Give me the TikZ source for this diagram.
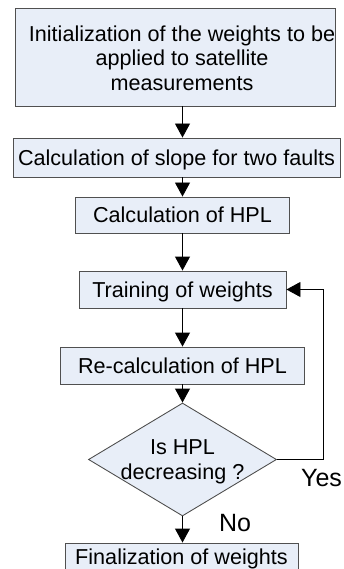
\documentclass[tikz,border=0pt]{standalone}
\usepackage{fontspec}
\setmainfont{Liberation Sans}
\usetikzlibrary{arrows.meta,shapes.geometric}
\definecolor{boxfill}{HTML}{E8EEF8}
\definecolor{boxline}{HTML}{505050}
\begin{document}
\begin{tikzpicture}[x=1pt,y=-1pt,
  boxbase/.style={draw=boxline, fill=boxfill, line width=0.9pt, inner sep=0pt,
    font=\fontsize{21.6}{24.5}\selectfont, text height=15.4pt, text depth=0pt},
  txt/.style={font=\fontsize{21.6}{24.5}\selectfont, align=center, inner sep=0pt},
  lbl/.style={font=\fontsize{25}{28}\selectfont, inner sep=0pt, text height=17.9pt, text depth=0pt},
  arr/.style={draw=black, line width=0.9pt, -{Triangle[width=15pt,length=14pt]}},
]
\useasboundingbox (0,0) rectangle (344,569);
\clip (0,0) rectangle (344,569);
\node[boxbase, minimum width=320pt, minimum height=98pt] (b1) at (175,57) {};
\node[txt] (t1) at (182,58) {Initialization of the weights to be\\applied to satellite\\measurements};
\node[boxbase, minimum width=327pt, minimum height=39pt] (b2) at (176.5,157.5) {Calculation of slope for two faults};
\node[boxbase, minimum width=214pt, minimum height=36pt] (b3) at (182.5,215) {Calculation of HPL};
\node[boxbase, minimum width=207pt, minimum height=37pt] (b4) at (182.5,289.5) {Training of weights};
\node[boxbase, minimum width=244pt, minimum height=37pt] (b5) at (182.5,365.5) {Re-calculation of HPL};
\node[draw=boxline, fill=boxfill, line width=0.9pt, diamond, inner sep=0pt,
  minimum width=188pt, minimum height=113pt] (d) at (182.5,459.5) {};
\node[txt] (t6) at (182.5,462) {Is HPL\\decreasing ?};
\node[boxbase, minimum width=233pt, minimum height=28pt] (b7) at (181.5,557) {Finalization of weights};
\coordinate (loop) at (323,289.5);
\draw[arr] (b1.south -| b3.center) -- (b2.north -| b3.center);
\draw[arr] (b2.south -| b3.center) -- (b3.north);
\draw[arr] (b3.south) -- (b4.north);
\draw[arr] (b4.south) -- (b5.north);
\draw[arr] (b5.south) -- (d.north);
\draw[arr] (d.south) -- (b7.north -| d.south);
\draw[arr] (d.east) -| (loop) -- (b4.east);
\node[lbl] (yes) at (321.5,477.5) {Yes};
\node[lbl] (no) at (235,522.5) {No};
\end{tikzpicture}
\end{document}
